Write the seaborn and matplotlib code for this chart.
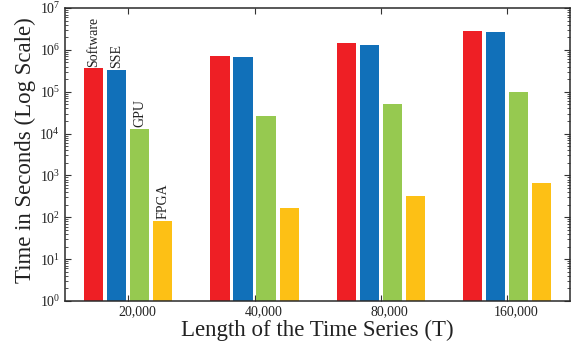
import matplotlib
matplotlib.use("Agg")
import matplotlib.pyplot as plt
import matplotlib.transforms as mtransforms
from matplotlib.ticker import LogLocator, NullFormatter, FixedLocator, LogFormatterSciNotation
import seaborn as sns
import pandas as pd
import numpy as np

lengths = ["20,000", "40,000", "80,000", "160,000"]
methods = ["Software", "SSE", "GPU", "FPGA"]
software = [3.6e5, 7.0e5, 1.44e6, 2.9e6]
sse = [3.3e5, 6.7e5, 1.29e6, 2.64e6]
gpu = [1.3e4, 2.6e4, 5.0e4, 1.0e5]
fpga = [81, 166, 327, 655]
y_ticks = [1e0, 1e1, 1e2, 1e3, 1e4, 1e5, 1e6, 1e7]
colors = ["#EE1F25", "#1170B9", "#96C950", "#FDC015"]

rows = []
for name, vals in zip(methods, [software, sse, gpu, fpga]):
    for L, v in zip(lengths, vals):
        rows.append({"Length": L, "Method": name, "Time": v})
df = pd.DataFrame(rows)

sns.set_style("ticks")
plt.rcParams["font.family"] = ["Liberation Serif", "DejaVu Serif"]
plt.rcParams["mathtext.fontset"] = "stix"
text_color = "#222222"

fig = plt.figure(figsize=(5.76, 3.49), dpi=100)
ax = fig.add_axes([0.113, 0.1375, 0.877, 0.8395])
ax.set_yscale("log")
sns.barplot(data=df, x="Length", y="Time", hue="Method", order=lengths,
            hue_order=methods, palette=colors, width=0.73, gap=0.17,
            saturation=1, legend=False, ax=ax, errorbar=None, linewidth=0)

ax.set_ylim(y_ticks[0], y_ticks[-1])
ax.set_xlim(-0.5, 3.5)
ax.yaxis.set_major_locator(FixedLocator(y_ticks))
ax.yaxis.set_major_formatter(LogFormatterSciNotation(base=10))
ax.yaxis.set_minor_locator(LogLocator(base=10, subs=np.arange(2, 10), numticks=10))
ax.yaxis.set_minor_formatter(NullFormatter())

for s in ax.spines.values():
    s.set_visible(True)
    s.set_color("#2a2a2a")
    s.set_linewidth(1.1)

ax.tick_params(axis="both", which="major", direction="in", top=True, right=True,
               length=4, width=0.8, colors="#333333", labelcolor=text_color,
               labelsize=10)
ax.tick_params(axis="y", which="minor", direction="in", right=True, left=True,
               length=2.5, width=0.6, colors="#333333")
ax.tick_params(axis="x", labelsize=10, pad=3)

offset = mtransforms.ScaledTranslation(9 / 100, 0, fig.dpi_scale_trans)
for lab in ax.get_xticklabels():
    lab.set_transform(lab.get_transform() + offset)

ax.set_xlabel("Length of the Time Series (T)", fontsize=16.5, color=text_color, labelpad=1)
ax.set_ylabel("Time in Seconds (Log Scale)", fontsize=16.5, color=text_color, labelpad=3)
ax.yaxis.set_label_coords(-0.058, 0.515)

# labels above first group's bars
patches = sorted(ax.patches, key=lambda p: p.get_x())
first_group = patches[:4]
for p, name in zip(first_group, methods):
    xc = p.get_x() + p.get_width() / 2
    h = p.get_y() + p.get_height()
    ax.text(xc, h * 1.1, name, rotation=90, ha="center", va="bottom",
            fontsize=10, color=text_color)

fig.savefig("out.png", dpi=100)
